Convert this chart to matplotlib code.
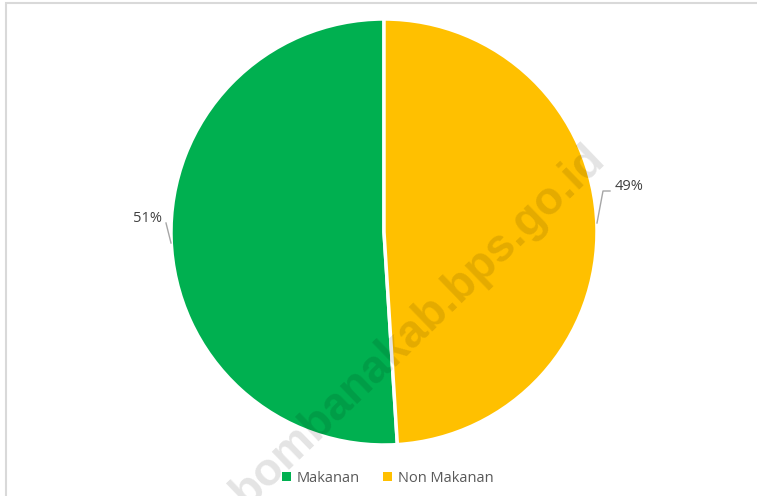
import matplotlib
matplotlib.use("Agg")
import matplotlib.pyplot as plt
from matplotlib.patches import Patch, Rectangle

categories = ["Makanan", "Non Makanan"]
shares = [51, 49]
pct_labels = ["51%", "49%"]
colours = ["#00B050", "#FFC000"]

W, H = 757, 496
fig = plt.figure(figsize=(W / 100, H / 100), dpi=100)
ax = fig.add_axes([0, 0, 1, 1])

# chart frame (cut off on the right and bottom)
ax.add_patch(Rectangle((5.5, -10), W + 20, H - 2.5 + 10, fill=False,
                       edgecolor="#D9D9D9", lw=1.5))

cx, cy, r = 384, H - 232, 213
wedges, _ = ax.pie(shares, colors=colours, startangle=90, counterclock=True,
                   center=(cx, cy), radius=r, frame=True,
                   wedgeprops=dict(edgecolor="white", linewidth=2.5))
ax.set_xlim(0, W)
ax.set_ylim(0, H)
ax.set_aspect("equal")
ax.axis("off")

# data labels with leader lines
lab_font = dict(family=["Open Sans", "DejaVu Sans"], fontsize=10.5, color="#404040")
ax.text(148, H - 218, pct_labels[0], ha="center", va="center", **lab_font)
ax.plot([166, 171], [H - 223, H - 243], color="#A6A6A6", lw=1)
ax.text(629, H - 186, pct_labels[1], ha="center", va="center", **lab_font)
ax.plot([610, 603, 597], [H - 191, H - 191, H - 223], color="#A6A6A6", lw=1)

# watermark
ax.text(607, H - 160, "bombanakab.bps.go.id", rotation=44, rotation_mode="anchor",
        ha="right", va="baseline", fontsize=33, fontweight="bold",
        family=["Liberation Sans", "DejaVu Sans"], color="black", alpha=0.11)

handles = [Patch(facecolor=c, edgecolor="none") for c in colours]
fig.legend(handles, categories, loc="center", bbox_to_anchor=(0.512, 0.036),
           ncol=2, frameon=False, handlelength=0.6, handleheight=0.6,
           handletextpad=0.4, columnspacing=1.6,
           prop=dict(family=["Open Sans", "DejaVu Sans"], size=10.5),
           labelcolor="#595959")

fig.savefig("out.png", dpi=100)
